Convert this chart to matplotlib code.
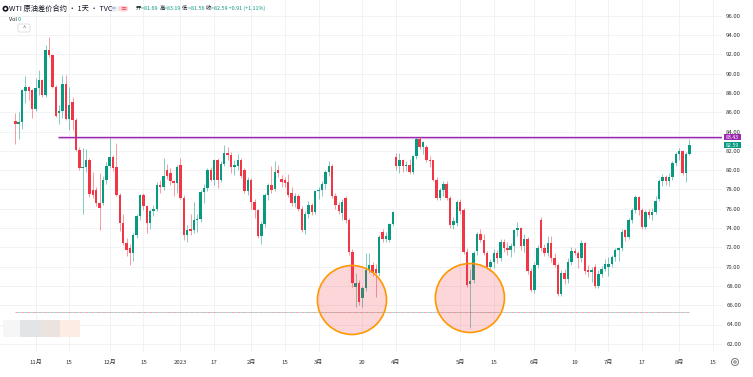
import numpy as np
import pandas as pd
import matplotlib
matplotlib.use("Agg")
import matplotlib.pyplot as plt
from matplotlib.patches import Rectangle, Ellipse, FancyBboxPatch, Circle

plt.rcParams['font.family'] = ['Noto Sans CJK SC', 'DejaVu Sans']

# trading days shown on the time axis (the CFD skips these days)
holidays = ['2022-12-26', '2023-01-02', '2023-04-07', '2023-05-29']
axis_days = pd.bdate_range('2022-10-24', '2023-08-31').drop(pd.to_datetime(holidays))

# daily candles, Oct 24 2022 .. Aug 4 2023
opens = [85.1, 84.8, 85.0, 88.2, 88.6, 88.3,
         86.3, 88.5, 89.3, 87.8, 92.4, 91.9, 88.6, 85.9, 86.1, 88.9, 85.3, 87.1, 85.2, 82.1, 80.2, 80.3, 81.0, 77.9, 77.9, 76.6, 76.6, 79.0,
         80.4, 81.4, 80.3, 77.4, 74.5, 72.4, 71.9, 71.45, 73.3, 75.2, 77.4, 76.3, 74.5, 75.8, 76.0, 78.5, 78.2, 80.0, 79.75, 78.9, 78.7,
         80.5, 77.1, 73.3, 73.9, 73.8, 74.8, 74.9, 77.7, 78.1, 80.0, 79.0, 81.05, 79.0, 80.6, 81.8, 81.6, 80.3, 80.4, 81.05, 80.0, 77.8,
         79.0, 76.7, 75.85, 73.2, 74.4, 77.4, 78.5, 78.0, 80.0, 79.05, 78.97, 78.8, 77.6, 76.55, 77.3, 76.0, 73.8, 75.5, 76.4, 75.7,
         77.8, 77.9, 78.6, 79.8, 80.4, 77.3, 76.4, 75.6, 77.1, 74.8, 71.5, 67.9, 68.3, 66.75, 67.8, 69.7, 70.2, 69.8, 69.3, 73.6, 72.9, 72.75, 74.4,
         81.4, 80.4, 81.0, 80.4, 80.5, 79.8, 81.5, 83.2, 82.4, 82.4, 81.0, 81.0, 79.0, 77.1, 77.9, 78.6, 77.1, 74.3, 74.5,
         76.7, 75.9, 71.5, 68.2, 68.6, 71.6, 73.4, 72.8, 71.4, 70.0, 70.5, 71.4, 70.9, 72.6, 71.9, 71.7, 72.1, 73.8, 74.0, 72.1, 72.9, 69.5,
         67.6, 70.2, 74.8, 71.9, 71.4, 72.4, 70.9, 70.2, 67.2, 69.3, 68.7, 70.5, 71.6, 71.4, 70.9, 72.4, 69.6, 69.4, 70.0, 68.0, 69.2, 69.75,
         70.0, 70.3, 71.0, 71.7, 71.9, 73.8, 73.1, 74.8, 75.9, 77.2, 75.9, 74.1, 75.7, 75.3, 75.7, 77.0, 78.9, 79.3, 78.9, 79.25, 80.7,
         81.7, 82.0, 79.7, 81.69]
highs = [85.9, 86.0, 88.4, 89.8, 88.7, 88.4,
         89.5, 90.4, 89.4, 93.0, 93.8, 92.0, 88.8, 86.8, 89.9, 89.9, 88.6, 87.6, 85.4, 82.4, 82.3, 82.2, 81.3, 79.8, 78.2, 79.7, 79.4, 80.8,
         83.3, 81.6, 82.8, 77.6, 75.4, 73.0, 72.3, 73.5, 75.4, 77.5, 77.6, 76.4, 76.0, 76.4, 78.8, 79.0, 81.25, 80.6, 80.2, 79.0, 80.5,
         81.3, 77.4, 74.3, 75.5, 76.7, 75.5, 77.9, 78.6, 80.2, 80.3, 81.2, 81.3, 80.9, 82.6, 82.4, 81.9, 81.0, 81.7, 81.3, 80.2, 79.3,
         79.2, 77.0, 76.0, 74.7, 77.6, 78.7, 80.4, 80.9, 80.5, 79.5, 79.3, 79.6, 78.3, 77.6, 77.5, 76.3, 75.8, 76.8, 76.6, 77.9,
         78.3, 78.9, 80.0, 80.9, 80.6, 77.6, 76.7, 77.0, 77.3, 75.0, 71.8, 69.3, 68.6, 68.0, 71.4, 71.4, 70.5, 70.3, 73.3, 73.9, 73.6, 74.5, 75.8,
         81.8, 81.8, 81.2, 80.9, 81.2, 81.6, 83.4, 83.4, 83.0, 82.6, 81.5, 81.1, 79.3, 78.1, 78.9, 78.9, 77.3, 75.1, 76.9,
         77.0, 76.1, 71.9, 69.8, 71.6, 73.6, 73.9, 73.4, 71.6, 70.8, 71.8, 71.7, 72.9, 72.9, 72.5, 72.4, 73.9, 74.6, 74.1, 73.4, 73.1, 69.9,
         70.5, 72.2, 75.1, 72.3, 73.2, 73.2, 71.4, 70.4, 69.6, 69.8, 70.9, 72.0, 71.9, 71.6, 72.8, 72.6, 70.2, 70.0, 70.3, 69.6, 70.1, 70.8,
         71.0, 71.2, 71.9, 72.0, 73.9, 73.9, 75.0, 76.1, 77.4, 77.3, 76.1, 75.9, 76.0, 76.1, 77.3, 79.1, 79.6, 79.5, 79.7, 80.9, 81.9,
         82.3, 82.1, 81.9, 83.19]
lows = [82.7, 83.2, 84.3, 87.0, 87.3, 85.4,
        86.1, 87.8, 87.6, 87.6, 91.7, 88.5, 85.5, 84.8, 85.4, 85.2, 84.2, 84.2, 82.0, 80.0, 75.4, 79.8, 77.2, 77.1, 76.3, 73.8, 76.4, 78.6,
        80.2, 79.9, 77.3, 73.7, 72.2, 71.1, 70.15, 70.6, 73.0, 74.8, 75.9, 73.5, 73.9, 75.2, 75.8, 77.6, 77.9, 79.1, 78.5, 77.3, 77.6,
        77.0, 72.8, 72.6, 73.3, 73.5, 73.6, 74.6, 76.6, 77.8, 78.9, 78.5, 78.1, 78.8, 80.4, 81.0, 79.7, 79.5, 80.0, 79.2, 77.6, 77.4,
        76.0, 75.0, 73.0, 72.3, 74.1, 76.9, 77.6, 77.8, 79.3, 78.3, 78.2, 77.2, 76.3, 76.2, 75.8, 73.6, 73.4, 75.0, 75.3, 75.4,
        77.0, 77.3, 78.0, 79.4, 77.1, 76.0, 75.4, 74.8, 74.5, 71.2, 67.9, 65.8, 66.0, 65.8, 67.5, 69.3, 69.0, 66.9, 69.0, 72.5, 72.6, 72.5, 74.2,
        80.0, 79.7, 79.8, 79.9, 79.6, 79.6, 81.2, 82.2, 81.7, 80.8, 80.3, 78.9, 76.9, 76.9, 77.3, 76.9, 74.0, 73.9, 74.2,
        75.4, 71.3, 67.9, 63.6, 68.3, 71.2, 72.5, 71.2, 69.8, 69.5, 69.9, 70.4, 70.6, 71.5, 71.2, 71.0, 71.5, 73.2, 71.7, 71.5, 69.2, 67.4,
        67.3, 69.9, 71.6, 71.1, 71.1, 70.5, 70.0, 67.0, 67.0, 68.2, 68.3, 70.2, 71.2, 69.9, 70.5, 69.2, 68.9, 68.4, 67.8, 67.8, 68.9, 69.5,
        69.0, 70.0, 70.6, 70.6, 71.6, 72.7, 72.9, 74.5, 75.6, 75.3, 73.9, 73.9, 75.0, 74.8, 75.4, 76.8, 78.4, 78.5, 78.4, 79.0, 80.4,
        81.0, 79.5, 78.8, 81.56]
closes = [84.8, 84.95, 88.3, 88.6, 88.2, 86.3,
          88.5, 89.3, 87.8, 92.4, 91.9, 88.6, 85.6, 86.1, 88.9, 85.3, 86.75, 85.2, 82.1, 80.2, 80.35, 81.0, 77.5, 77.4, 76.55, 76.1, 79.0, 80.4,
          81.4, 80.2, 77.4, 74.5, 72.4, 71.7, 71.45, 73.3, 75.2, 77.4, 76.3, 74.5, 75.8, 76.0, 78.5, 78.2, 79.4, 79.4, 78.9, 78.7, 80.35,
          77.1, 73.3, 73.75, 73.7, 74.8, 74.95, 77.7, 78.1, 80.0, 79.0, 81.05, 79.0, 80.6, 81.8, 81.6, 80.3, 80.5, 81.05, 79.4, 77.8, 79.0,
          76.7, 75.85, 73.2, 74.4, 77.4, 78.5, 77.9, 79.8, 79.7, 78.8, 78.65, 77.4, 76.55, 77.3, 76.0, 73.8, 75.5, 76.4, 75.7, 77.8,
          77.9, 78.6, 79.8, 80.4, 77.3, 76.4, 75.8, 76.7, 74.8, 71.5, 68.3, 68.3, 66.3, 67.8, 69.7, 70.2, 69.3, 69.3, 73.1, 72.9, 73.2, 74.4, 75.7,
          80.4, 81.0, 80.4, 80.5, 79.8, 81.5, 83.2, 82.4, 82.9, 81.0, 80.9, 79.0, 77.1, 77.9, 78.6, 77.1, 74.3, 74.75, 76.7,
          75.8, 71.5, 68.1, 68.5, 71.4, 73.4, 72.8, 71.4, 70.0, 70.5, 71.4, 70.9, 72.6, 71.9, 71.7, 72.1, 73.8, 74.0, 72.1, 72.9, 69.5, 67.6,
          70.2, 71.9, 71.9, 71.4, 72.4, 70.9, 70.2, 67.2, 69.3, 68.7, 70.5, 71.6, 71.4, 70.9, 72.4, 69.5, 69.4, 69.6, 68.0, 69.2, 69.75, 70.3,
          70.3, 71.0, 71.7, 71.9, 73.6, 73.1, 74.8, 75.9, 77.2, 75.9, 74.1, 75.7, 75.3, 75.7, 76.8, 78.9, 79.3, 78.9, 79.3, 80.7, 81.7,
          82.0, 79.7, 81.68, 82.59]

# time axis labels
tick_dates = ['2022-11-01', '2022-11-15', '2022-12-01', '2022-12-15', '2023-01-03', '2023-01-17',
              '2023-02-01', '2023-02-15', '2023-03-01', '2023-03-20', '2023-04-03', '2023-05-01',
              '2023-05-15', '2023-06-01', '2023-06-19', '2023-07-03', '2023-07-17', '2023-08-01', '2023-08-15']
tick_labels = ['11月', '15', '12月', '15', '2023', '17', '2月', '15', '3月', '20', '4月', '5月',
               '15', '6月', '19', '7月', '17', '8月', '15']
price_ticks = np.arange(62, 97, 2)

level_price = 83.43      # purple horizontal line
dash_price = 65.3        # dashed line near the bottom

up_color = '#089981'
down_color = '#f23645'

W, H = 753, 377
fig = plt.figure(figsize=(W / 100, H / 100), dpi=100)
fig.patch.set_facecolor('white')
ax = fig.add_axes([0, 1 - 352 / H, 722 / W, 352 / H])

n = len(closes)
x = np.arange(n)
o = np.array(opens)
c = np.array(closes)
hi = np.array(highs)
lo = np.array(lows)
up = c >= o
cols = np.where(up, up_color, down_color)

ax.vlines(x, lo, hi, colors=cols, linewidth=0.7, alpha=0.5, zorder=3)
body_low = np.minimum(o, c)
body_h = np.maximum(np.abs(c - o), 0.15)
ax.bar(x, body_h, bottom=body_low, width=0.72, color=cols, linewidth=0, zorder=4)

# highlighted lows
for cx, cy in [(99.9, 66.54), (134.9, 66.75)]:
    ax.add_patch(Ellipse((cx, cy), 20.5, 7.15, facecolor=(0.95, 0.21, 0.27, 0.2),
                         edgecolor='#ff9800', linewidth=1.2, zorder=5))

ax.hlines(level_price - 0.12, 12.8, 215, color='#e8cdee', linewidth=1.0, zorder=2)
ax.hlines(level_price, 12.8, 215, color='#9c27b0', linewidth=1.0, zorder=6)
ax.hlines(dash_price, 0, n - 1, color='#f5a3a9', linewidth=0.7, linestyles=(0, (3, 3)), zorder=2)
ax.hlines(dash_price, 0, n - 1, color='#9fd8cf', linewidth=0.7, linestyles=(3, (3, 3)), zorder=2)

ax.set_xlim(-4.54, 209.7)
ax.set_ylim(61.15, 97.63)

tick_pos = [axis_days.get_loc(pd.Timestamp(d)) for d in tick_dates]
ax.set_xticks(tick_pos)
ax.set_xticklabels(tick_labels)
ax.set_yticks(price_ticks)
ax.set_yticklabels([f'{p:.2f}' for p in price_ticks])
ax.yaxis.tick_right()
ax.tick_params(axis='both', length=0, labelsize=4.3, labelcolor='#333333')
ax.tick_params(axis='x', pad=6)
ax.tick_params(axis='y', pad=3)
ax.grid(True, color='#f1f2f4', linewidth=0.7, zorder=0)
for s in ax.spines.values():
    s.set_visible(False)

px = fig.dpi_scale_trans


def inch(xp, yp):
    return xp / 100, (H - yp) / 100


# price labels on the scale
for price, col in [(level_price, '#9c27b0'), (82.59, up_color)]:
    yp = 15.7 + (96 - price) * 9.65
    fig.add_artist(Rectangle(inch(724, yp + 2.8), 0.165, 0.056, transform=px,
                             facecolor=col, edgecolor='none', zorder=10))
    fig.text(732.3 / W, 1 - yp / H, f'{price:.2f}', color='white', fontsize=3.8,
             ha='center', va='center', zorder=11)

# blurred blocks at the bottom left
for x0, col in [(3, '#f6f6f6'), (20, '#e3e4e6'), (40, '#ebe3df'), (60, '#fdece3')]:
    fig.add_artist(Rectangle(inch(x0, 337), 0.2, 0.17, transform=px,
                             facecolor=col, edgecolor='none', zorder=1))

# header
fig.add_artist(Circle(inch(5.5, 8.7), 0.03, transform=px, facecolor='#131722', zorder=10))
fig.add_artist(Circle(inch(5.5, 8.7), 0.013, transform=px, facecolor='white', zorder=11))

fig.canvas.draw()
rend = fig.canvas.get_renderer()


def run_text(xp, yp, parts, size):
    for s, col in parts:
        t = fig.text(xp / W, 1 - yp / H, s, color=col, fontsize=size, ha='left', va='center')
        xp += t.get_window_extent(rend).width


run_text(9, 8.7, [('WTI 原油差价合约 · 1天 · TVC', '#131722')], 5.2)
fig.add_artist(FancyBboxPatch(inch(109, 11.5), 0.085, 0.055, boxstyle='round,pad=0,rounding_size=0.02',
                              transform=px, facecolor='#e8ecf5', edgecolor='none'))
fig.add_artist(FancyBboxPatch(inch(118, 11.5), 0.1, 0.055, boxstyle='round,pad=0,rounding_size=0.02',
                              transform=px, facecolor='#fcd9dc', edgecolor='none'))
fig.text(113.3 / W, 1 - 8.7 / H, '=', color='#7d8fb3', fontsize=4.5, ha='center', va='center')
fig.text(123 / W, 1 - 8.7 / H, '≡', color='#f23645', fontsize=4.5, ha='center', va='center')
g = up_color
k = '#131722'
run_text(136, 8.7, [('开', k), ('=81.69 ', g), ('高', k), ('=83.19 ', g), ('低', k), ('=81.56 ', g),
                    ('收', k), ('=82.59 +0.91 (+1.11%)', g)], 3.9)
run_text(9, 19.5, [('Vol ', k), ('0', g)], 3.9)
fig.add_artist(FancyBboxPatch(inch(18, 32), 0.12, 0.08, boxstyle='round,pad=0,rounding_size=0.015',
                              transform=px, facecolor='white', edgecolor='#d1d4dc', linewidth=0.5))
fig.text(24 / W, 1 - 28.5 / H, '^', color='#555555', fontsize=4, ha='center', va='center')

# settings icon at the bottom right
fig.add_artist(Circle(inch(735, 362), 0.035, transform=px, facecolor='none', edgecolor='#666666', linewidth=0.6))
fig.add_artist(Circle(inch(735, 362), 0.012, transform=px, facecolor='none', edgecolor='#666666', linewidth=0.6))

fig.savefig('out.png', dpi=100)
